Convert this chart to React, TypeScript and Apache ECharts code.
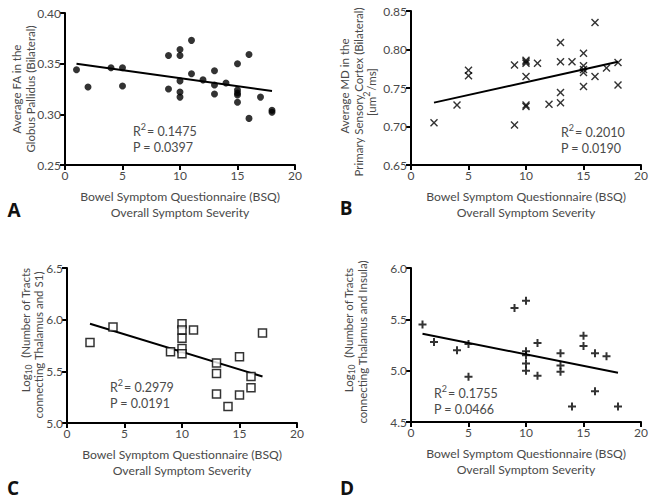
import React, { useEffect, useRef } from "react";
import * as echarts from "echarts";

// Panel A: FA globus pallidus
const xA = [1, 2, 4, 5, 5, 9, 9, 10, 10, 10, 10, 10, 11, 11, 12, 13, 13, 13, 14, 15, 15, 15, 15, 15, 16, 16, 17, 18, 18];
const yA = [0.344, 0.327, 0.346, 0.346, 0.328, 0.358, 0.325, 0.364, 0.358, 0.333, 0.322, 0.317, 0.373, 0.340, 0.334, 0.343, 0.329, 0.320, 0.331, 0.350, 0.324, 0.321, 0.319, 0.312, 0.359, 0.296, 0.317, 0.304, 0.302];
const fitAx = [1, 18];
const fitAy = [0.350, 0.323];

// Panel B: MD primary sensory cortex
const xB = [2, 4, 5, 5, 9, 9, 10, 10, 10, 10, 10, 10, 11, 12, 13, 13, 13, 13, 14, 15, 15, 15, 15, 15, 16, 16, 17, 18, 18];
const yB = [0.705, 0.728, 0.773, 0.766, 0.780, 0.702, 0.786, 0.784, 0.782, 0.765, 0.728, 0.726, 0.782, 0.729, 0.809, 0.784, 0.744, 0.731, 0.784, 0.795, 0.779, 0.774, 0.770, 0.752, 0.835, 0.765, 0.776, 0.783, 0.754];
const fitBx = [2, 18];
const fitBy = [0.731, 0.784];

// Panel C: tracts thalamus - S1
const xC = [2, 4, 9, 10, 10, 10, 10, 10, 11, 13, 13, 13, 14, 15, 15, 16, 16, 17];
const yC = [5.78, 5.93, 5.69, 5.96, 5.90, 5.82, 5.72, 5.67, 5.90, 5.58, 5.48, 5.28, 5.16, 5.64, 5.27, 5.45, 5.34, 5.87];
const fitCx = [2, 17];
const fitCy = [5.96, 5.45];

// Panel D: tracts thalamus - insula
const xD = [1, 2, 4, 5, 5, 9, 10, 10, 10, 10, 10, 11, 11, 13, 13, 13, 14, 15, 15, 16, 16, 17, 18];
const yD = [5.45, 5.28, 5.20, 5.26, 4.94, 5.61, 5.68, 5.19, 5.15, 5.07, 5.00, 5.27, 4.95, 5.17, 5.05, 4.99, 4.65, 5.34, 5.24, 5.17, 4.80, 5.14, 4.65];
const fitDx = [1, 18];
const fitDy = [5.36, 4.98];

const r2Values = ["0.1475", "0.2010", "0.2979", "0.1755"];
const pValues = ["0.0397", "0.0190", "0.0191", "0.0466"];
const panelLetters = ["A", "B", "C", "D"];
const xTitle = "Bowel Symptom Questionnaire (BSQ)\nOverall Symptom Severity";

const yRanges = [
  { min: 0.25, max: 0.4, interval: 0.05, dec: 2 },
  { min: 0.65, max: 0.85, interval: 0.05, dec: 2 },
  { min: 5.0, max: 6.5, interval: 0.5, dec: 1 },
  { min: 4.5, max: 6.0, interval: 0.5, dec: 1 },
];

const FONT = "Lato, 'Open Sans', sans-serif";
const TXT = "#4a4a4a";

const CROSS = "path://M1,0 L4,3 L7,0 L8,1 L5,4 L8,7 L7,8 L4,5 L1,8 L0,7 L3,4 L0,1 Z";
const PLUS = "path://M3,0 H5 V3 H8 V5 H5 V8 H3 V5 H0 V3 H3 Z";

const zip = (xs: number[], ys: number[]) => xs.map((x, i) => [x, ys[i]]);

export default function App() {
  const ref = useRef<HTMLDivElement>(null);
  useEffect(() => {
    if (!ref.current) return;
    const chart = echarts.init(ref.current, null, { renderer: "svg" });
    const grids = [
      { left: 65, top: 13, width: 230, height: 152 },
      { left: 411, top: 11, width: 230, height: 154 },
      { left: 67, top: 268, width: 230, height: 155 },
      { left: 411, top: 268, width: 230, height: 154 },
    ];
    const axisCommon = {
      axisLine: { show: true, lineStyle: { color: "#000", width: 2 } },
      axisTick: { show: true, inside: false, length: 5, lineStyle: { color: "#000", width: 2 } },
      splitLine: { show: false },
      axisLabel: { color: TXT, fontSize: 12, fontFamily: FONT, margin: 4 },
    };
    const xAxis = grids.map((_, i) => ({
      type: "value",
      gridIndex: i,
      min: 0,
      max: 20,
      interval: 5,
      ...axisCommon,
      name: xTitle,
      nameLocation: "middle",
      nameGap: 24,
      nameTextStyle: { color: TXT, fontSize: 12.2, fontFamily: FONT, lineHeight: 15.5 },
    }));
    const yAxis = yRanges.map((r, i) => ({
      type: "value",
      gridIndex: i,
      min: r.min,
      max: r.max,
      interval: r.interval,
      ...axisCommon,
      axisLabel: {
        ...axisCommon.axisLabel,
        formatter: (v: number) => v.toFixed(r.dec),
      },
    }));
    const scatterStyles = [
      { symbol: "circle", symbolSize: 7, itemStyle: { color: "#000" } },
      { symbol: CROSS, symbolSize: 8, itemStyle: { color: "#000" } },
      { symbol: "rect", symbolSize: 8, itemStyle: { color: "#fff", borderColor: "#000", borderWidth: 1.5 } },
      { symbol: PLUS, symbolSize: 8, itemStyle: { color: "#000" } },
    ];
    const pts = [zip(xA, yA), zip(xB, yB), zip(xC, yC), zip(xD, yD)];
    const fits = [zip(fitAx, fitAy), zip(fitBx, fitBy), zip(fitCx, fitCy), zip(fitDx, fitDy)];
    const series: any[] = [];
    for (let i = 0; i < 4; i++) {
      series.push({
        type: "line",
        xAxisIndex: i,
        yAxisIndex: i,
        data: fits[i],
        showSymbol: false,
        lineStyle: { color: "#000", width: 2 },
        z: 2,
      });
      series.push({
        type: "scatter",
        xAxisIndex: i,
        yAxisIndex: i,
        data: pts[i],
        ...scatterStyles[i],
        z: 3,
      });
    }

    const mkRich = (fs: number) => ({
      n: { fontSize: fs, fontFamily: FONT, fill: TXT },
      sup: { fontSize: 9, fontFamily: FONT, fill: TXT, padding: [0, 1, 9, 0] },
      sub: { fontSize: 8.5, fontFamily: FONT, fill: TXT, padding: [7, 0, 0, 0] },
    });
    const statPos = [
      [133, 131],
      [561, 132],
      [110, 387],
      [434, 393],
    ];
    const letterPos = [
      [14, 210],
      [346, 208],
      [13, 488],
      [347, 488],
    ];
    const graphic: any[] = [];
    for (let i = 0; i < 4; i++) {
      graphic.push({
        type: "text",
        x: statPos[i][0],
        y: statPos[i][1],
        style: {
          text: `{n|R}{sup|2}{n|= ${r2Values[i]}}`,
          rich: mkRich(12.5),
          fill: TXT,
          verticalAlign: "middle",
          align: "left",
        },
      });
      graphic.push({
        type: "text",
        x: statPos[i][0],
        y: statPos[i][1] + 16,
        style: {
          text: `P = ${pValues[i]}`,
          fontSize: 12.5,
          fontFamily: FONT,
          fill: TXT,
          verticalAlign: "middle",
          align: "left",
        },
      });
      graphic.push({
        type: "text",
        x: letterPos[i][0],
        y: letterPos[i][1],
        style: {
          text: panelLetters[i],
          fontSize: 19,
          fontWeight: "bold",
          fontFamily: "'Open Sans', sans-serif",
          fill: "#111",
          align: "center",
          verticalAlign: "middle",
        },
      });
    }
    const YFS = 11.5;
    const yTitleStyle = { fontSize: YFS, fontFamily: FONT, fill: TXT, verticalAlign: "middle" };
    const yTitles = [
      { x: 16, y: 89, align: "center", text: "Average FA in the" },
      { x: 30, y: 89, align: "center", text: "Globus Pallidus (Bilateral)" },
      { x: 344, y: 86, align: "center", text: "Average MD in the" },
      { x: 358, y: 92, align: "center", text: "Primary Sensory Cortex (Bilateral)" },
      { x: 371, y: 92, align: "center", rich: true, text: "{n|[um}{sup|2}{n|/ms]}" },
      { x: 25, y: 268, align: "right", rich: true, text: "{n|Log}{sub|10}{n|  (Number of Tracts}" },
      { x: 38, y: 345, align: "center", text: "connecting Thalamus and S1)" },
      { x: 348, y: 268, align: "right", rich: true, text: "{n|Log}{sub|10}{n|  (Number of Tracts}" },
      { x: 362, y: 342, align: "center", text: "connecting Thalamus and Insula)" },
    ];
    yTitles.forEach((t) => {
      graphic.push({
        type: "text",
        x: t.x,
        y: t.y,
        rotation: Math.PI / 2,
        style: t.rich
          ? { text: t.text, rich: mkRich(YFS), fill: TXT, align: t.align, verticalAlign: "middle" }
          : { ...yTitleStyle, text: t.text, align: t.align },
      });
    });

    chart.setOption({
      animation: false,
      backgroundColor: "#fff",
      grid: grids,
      xAxis,
      yAxis,
      series,
      graphic,
    });
    return () => chart.dispose();
  }, []);
  return (
    <div
      ref={ref}
      style={{ position: "absolute", left: 0, top: 0, width: 654, height: 501 }}
    />
  );
}
